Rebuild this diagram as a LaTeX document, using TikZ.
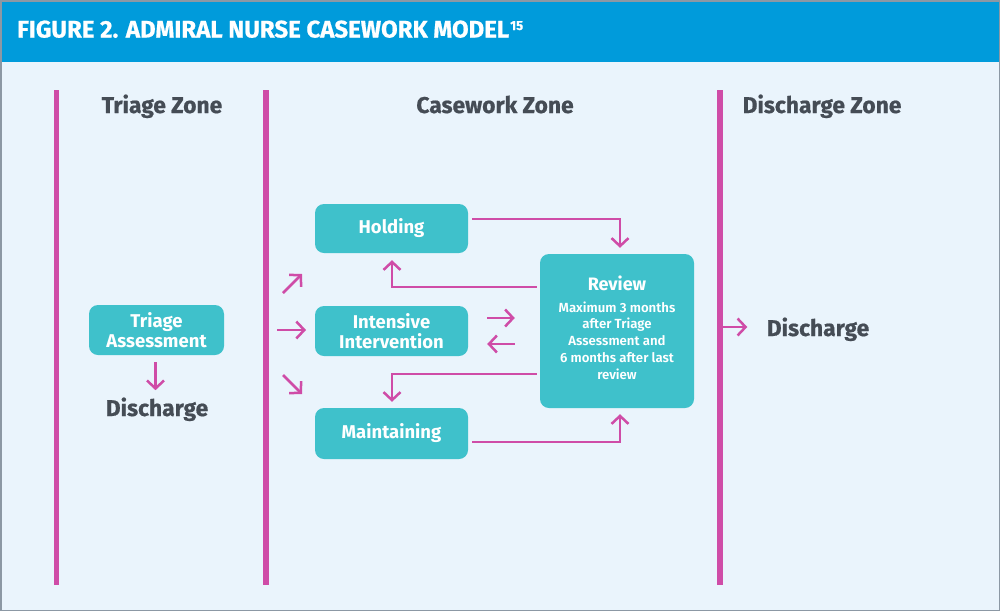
\documentclass[tikz,border=0pt]{standalone}
\usepackage{fontspec}
\setmainfont{Fira Sans}
\newfontfamily\heavy{Fira Sans}[FakeBold=0.7]
\IfFontExistsTF{Fira Sans SemiBold}{\newfontfamily\semi{Fira Sans SemiBold}}{\newfontfamily\semi{Fira Sans Medium}}
\usetikzlibrary{arrows.meta,calc}
\definecolor{headblue}{HTML}{009BDB}
\definecolor{bgblue}{HTML}{EAF4FC}
\definecolor{boxteal}{HTML}{3FC1CB}
\definecolor{mag}{HTML}{CF4CA7}
\definecolor{darktext}{HTML}{454C55}
\definecolor{bordergrey}{HTML}{8C98A4}
\begin{document}
\begin{tikzpicture}[x=1pt,y=-1pt,
  box/.style={fill=boxteal, rounded corners=9pt, text=white, font=\bfseries\fontsize{18.5}{20.5}\selectfont, align=center, inner sep=0pt},
  zone/.style={text=darktext, font=\heavy\bfseries\fontsize{22.8}{25}\selectfont},
  arr/.style={draw=mag, line width=2.5pt, -{Straight Barb[length=8pt,width=17pt]}},
  zline/.style={draw=mag, line width=5.5pt}]
\useasboundingbox (0,0) rectangle (1000,611);
\fill[bgblue] (0,0) rectangle (1000,611);
\fill[headblue] (0,0) rectangle (1000,62);
\draw[bordergrey, line width=1.5pt] (0.75,0.75) rectangle (999.25,610.25);
\node[anchor=base west, text=white, inner sep=0pt, font=\heavy\bfseries\fontsize{24}{26}\selectfont] (title) at (17,37.5) {FIGURE 2. ADMIRAL NURSE CASEWORK MODEL\kern1pt\raisebox{7.5pt}{\fontsize{13}{13}\selectfont 15}};
% zone lines
\draw[zline] (56.5,90) -- (56.5,585);
\draw[zline] (266,90) -- (266,585);
\draw[zline] (720,90) -- (720,585);
% zone labels
\node[zone, anchor=base] (z1) at (162,113) {Triage Zone};
\node[zone, anchor=base] (z2) at (495,113) {Casework Zone};
\node[zone, anchor=base] (z3) at (822,113) {Discharge Zone};
% triage
\node[box, minimum width=135pt, minimum height=50pt] (tri) at (156.5,330) {Triage\\Assessment};
\node[zone, anchor=base] (dis1) at (157,416) {Discharge};
\draw[arr] ($(tri.south)+(-1,7)$) -- ($(tri.south)+(-1,35)$);
% casework boxes
\node[box, minimum width=153pt, minimum height=49pt] (hold) at (391.5,228.5) {Holding};
\node[box, minimum width=153pt, minimum height=50pt] (int) at (391.5,331) {Intensive\\Intervention};
\node[box, minimum width=153pt, minimum height=51pt] (main) at (391.5,433.5) {Maintaining};
\node[box, minimum width=154pt, minimum height=154pt] (rev) at (617,331) {};
\node[anchor=base, text=white, inner sep=0pt, font=\bfseries\fontsize{18}{20}\selectfont] (revt) at (617,290) {Review};
\node[anchor=base, text=white, align=center, inner sep=0pt, font=\semi\fontsize{13.2}{16.7}\selectfont] (revd) at (617,379) {Maximum 3 months\\after Triage\\Assessment and\\6 months after last\\review};
% fan arrows
\coordinate (f1s) at (283,293); \coordinate (f1e) at (302,274);
\coordinate (f2s) at (277,330); \coordinate (f2e) at (306,330);
\coordinate (f3s) at (283,375); \coordinate (f3e) at (302,394);
\draw[arr] (f1s) -- (f1e);
\draw[arr] (f2s) -- (f2e);
\draw[arr] (f3s) -- (f3e);
% loops
\draw[arr] ($(hold.east)+(4,-9.5)$) -| ($(rev.north)+(3,-6)$);
\draw[arr] ($(rev.west)+(-3,-44)$) -| ($(hold.south)+(0.5,7)$);
\draw[arr] ($(int.east)+(19,-13)$) -- ($(rev.west)+(-25,-13)$);
\draw[arr] ($(rev.west)+(-25,13)$) -- ($(int.east)+(19,13)$);
\draw[arr] ($(rev.west)+(-3,43)$) -| ($(main.north)+(0.5,-6)$);
\draw[arr] ($(main.east)+(4,8.5)$) -| ($(rev.south)+(3,6)$);
% discharge zone
\node[zone, anchor=base] (dis2) at (818,336) {Discharge};
\coordinate (d3s) at (720,327);
\coordinate (d3e) at ($(dis2.west)+(-16,0)$);
\draw[arr] (d3s) -- (d3e |- d3s);
\end{tikzpicture}
\end{document}
